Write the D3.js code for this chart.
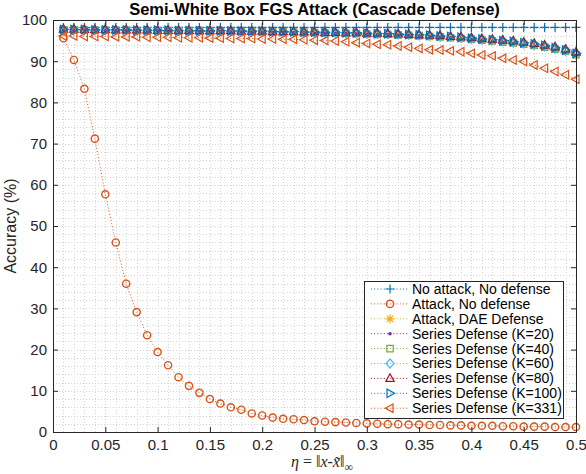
<!DOCTYPE html>
<html lang="en">
<head>
  <meta charset="UTF-8">
  <title>Semi-White Box FGS Attack (Cascade Defense)</title>
  <script src="https://cdnjs.cloudflare.com/ajax/libs/d3/7.8.5/d3.min.js"></script>
  <style>
    body { margin: 0; background: #fff; }
    svg { display: block; font-family: "Liberation Sans", Arial, sans-serif; }
  </style>
</head>
<body>
  <svg width="586" height="474"></svg>
  <script>
    // perturbation size eta
    const eta = [
      0.01, 0.02, 0.03, 0.04, 0.05, 0.06, 0.07, 0.08, 0.09, 0.10,
      0.11, 0.12, 0.13, 0.14, 0.15, 0.16, 0.17, 0.18, 0.19, 0.20,
      0.21, 0.22, 0.23, 0.24, 0.25, 0.26, 0.27, 0.28, 0.29, 0.30,
      0.31, 0.32, 0.33, 0.34, 0.35, 0.36, 0.37, 0.38, 0.39, 0.40,
      0.41, 0.42, 0.43, 0.44, 0.45, 0.46, 0.47, 0.48, 0.49, 0.50
    ];

    // accuracy (%) per series
    const noAttack = [
      98.2, 98.2, 98.2, 98.2, 98.2, 98.2, 98.2, 98.2, 98.2, 98.2,
      98.2, 98.2, 98.2, 98.2, 98.2, 98.2, 98.2, 98.2, 98.2, 98.2,
      98.2, 98.2, 98.2, 98.2, 98.2, 98.2, 98.2, 98.2, 98.2, 98.2,
      98.2, 98.2, 98.2, 98.2, 98.2, 98.2, 98.2, 98.2, 98.2, 98.2,
      98.2, 98.2, 98.2, 98.2, 98.2, 98.2, 98.2, 98.2, 98.2, 98.2
    ];
    const attackNoDefense = [
      95.6, 90.3, 83.3, 71.2, 57.7, 46.0, 36.0, 29.1, 23.5, 19.4,
      16.2, 13.3, 11.2, 9.5, 8.0, 6.9, 6.0, 5.4, 4.5, 4.0,
      3.5, 3.2, 3.1, 2.9, 2.6, 2.5, 2.4, 2.3, 2.2, 2.1,
      2.0, 1.9, 1.9, 1.8, 1.8, 1.7, 1.7, 1.6, 1.6, 1.5,
      1.5, 1.5, 1.4, 1.4, 1.3, 1.3, 1.3, 1.2, 1.2, 1.2
    ];
    const attackDAE = [
      97.6, 97.6, 97.6, 97.6, 97.5, 97.5, 97.5, 97.5, 97.4, 97.4,
      97.4, 97.4, 97.3, 97.3, 97.3, 97.3, 97.2, 97.2, 97.2, 97.2,
      97.1, 97.1, 97.0, 97.0, 96.9, 96.9, 96.8, 96.8, 96.7, 96.6,
      96.6, 96.5, 96.4, 96.3, 96.2, 96.1, 95.9, 95.8, 95.6, 95.4,
      95.2, 94.9, 94.7, 94.4, 94.1, 93.8, 93.4, 92.9, 92.3, 91.5
    ];
    const seriesK20 = [
      97.5, 97.5, 97.5, 97.5, 97.4, 97.4, 97.4, 97.4, 97.3, 97.3,
      97.3, 97.3, 97.2, 97.2, 97.2, 97.2, 97.1, 97.1, 97.1, 97.0,
      97.0, 97.0, 96.9, 96.9, 96.8, 96.8, 96.7, 96.7, 96.6, 96.5,
      96.4, 96.4, 96.3, 96.2, 96.1, 95.9, 95.8, 95.6, 95.4, 95.2,
      95.0, 94.8, 94.5, 94.2, 93.9, 93.6, 93.2, 92.7, 92.1, 91.3
    ];
    const seriesK40 = [
      97.6, 97.6, 97.6, 97.5, 97.5, 97.5, 97.5, 97.4, 97.4, 97.4,
      97.4, 97.3, 97.3, 97.3, 97.3, 97.2, 97.2, 97.2, 97.2, 97.1,
      97.1, 97.1, 97.0, 97.0, 96.9, 96.9, 96.8, 96.8, 96.7, 96.6,
      96.5, 96.5, 96.4, 96.3, 96.2, 96.0, 95.9, 95.7, 95.5, 95.3,
      95.1, 94.9, 94.6, 94.4, 94.1, 93.8, 93.4, 92.9, 92.4, 91.6
    ];
    const seriesK60 = [
      97.7, 97.7, 97.6, 97.6, 97.6, 97.6, 97.5, 97.5, 97.5, 97.5,
      97.4, 97.4, 97.4, 97.4, 97.3, 97.3, 97.3, 97.3, 97.2, 97.2,
      97.2, 97.1, 97.1, 97.0, 97.0, 96.9, 96.9, 96.8, 96.8, 96.7,
      96.6, 96.6, 96.5, 96.4, 96.3, 96.2, 96.0, 95.9, 95.7, 95.5,
      95.3, 95.1, 94.9, 94.6, 94.3, 94.0, 93.6, 93.1, 92.5, 91.8
    ];
    const seriesK80 = [
      97.8, 97.8, 97.7, 97.7, 97.7, 97.6, 97.6, 97.6, 97.6, 97.5,
      97.5, 97.5, 97.5, 97.4, 97.4, 97.4, 97.4, 97.3, 97.3, 97.3,
      97.2, 97.2, 97.2, 97.1, 97.1, 97.0, 97.0, 96.9, 96.9, 96.8,
      96.8, 96.7, 96.6, 96.5, 96.4, 96.3, 96.2, 96.0, 95.9, 95.7,
      95.5, 95.3, 95.1, 94.9, 94.6, 94.3, 93.9, 93.5, 92.9, 92.2
    ];
    const seriesK100 = [
      97.7, 97.7, 97.7, 97.6, 97.6, 97.6, 97.6, 97.5, 97.5, 97.5,
      97.5, 97.4, 97.4, 97.4, 97.4, 97.4, 97.3, 97.3, 97.3, 97.3,
      97.2, 97.2, 97.2, 97.1, 97.1, 97.0, 97.0, 96.9, 96.9, 96.8,
      96.7, 96.7, 96.6, 96.5, 96.4, 96.3, 96.1, 96.0, 95.8, 95.6,
      95.4, 95.2, 95.0, 94.8, 94.5, 94.2, 93.8, 93.3, 92.7, 91.9
    ];
    const seriesK331 = [
      96.1, 96.1, 96.0, 96.0, 96.0, 95.9, 95.9, 95.9, 95.8, 95.8,
      95.8, 95.7, 95.7, 95.7, 95.6, 95.6, 95.5, 95.5, 95.5, 95.4,
      95.4, 95.3, 95.3, 95.2, 95.1, 95.0, 94.9, 94.7, 94.5, 94.3,
      94.1, 94.0, 93.7, 93.4, 93.1, 92.8, 92.7, 92.5, 92.3, 91.9,
      91.5, 91.3, 90.7, 90.3, 89.9, 89.1, 88.3, 87.5, 86.7, 85.6
    ];

    const legendLabels = [
      "No attack, No defense",
      "Attack, No defense",
      "Attack, DAE Defense",
      "Series Defense (K=20)",
      "Series Defense (K=40)",
      "Series Defense (K=60)",
      "Series Defense (K=80)",
      "Series Defense (K=100)",
      "Series Defense (K=331)"
    ];

    const xTickValues = [0, 0.05, 0.1, 0.15, 0.2, 0.25, 0.3, 0.35, 0.4, 0.45, 0.5];
    const yTickValues = [0, 10, 20, 30, 40, 50, 60, 70, 80, 90, 100];

    // styling per series (MATLAB default colour order)
    const seriesValues = [noAttack, attackNoDefense, attackDAE, seriesK20, seriesK40,
                          seriesK60, seriesK80, seriesK100, seriesK331];
    const colors = ["#0072BD", "#D95319", "#EDB120", "#7E2F8E", "#77AC30",
                    "#4DBEEE", "#A2142F", "#0072BD", "#D95319"];
    const markers = ["plus", "circle", "star", "point", "square",
                     "diamond", "triUp", "triRight", "triLeft"];

    const series = seriesValues.map((vals, i) => ({
      name: legendLabels[i],
      color: colors[i],
      marker: markers[i],
      points: vals.map((v, j) => ({ x: eta[j], y: v }))
    }));

    const svg = d3.select("svg");
    const axisColor = "#262626";

    const x = d3.scaleLinear().domain([0, 0.5]).range([53, 576]);
    const y = d3.scaleLinear().domain([0, 100]).range([432, 20]);

    // minor + major grid (dotted)
    const grid = svg.append("g").attr("stroke", "#d4d4d4").attr("stroke-width", 1)
      .attr("stroke-dasharray", "1,2");
    grid.selectAll(".vx").data(d3.range(1, 50).map(i => i / 100)).enter().append("line")
      .attr("x1", d => Math.round(x(d)) + 0.5).attr("x2", d => Math.round(x(d)) + 0.5)
      .attr("y1", y(0)).attr("y2", y(100));
    grid.selectAll(".hy").data(d3.range(2, 100, 2)).enter().append("line")
      .attr("y1", d => Math.round(y(d)) + 0.5).attr("y2", d => Math.round(y(d)) + 0.5)
      .attr("x1", x(0)).attr("x2", x(0.5));

    // marker shapes
    function markerPath(type) {
      const s = 4.5;
      switch (type) {
        case "plus": return `M${-s},0H${s}M0,${-s}V${s}`;
        case "circle": { const r = 3.6; return `M${r},0A${r},${r} 0 1,1 ${-r},0A${r},${r} 0 1,1 ${r},0Z`; }
        case "star": { const d = s * 0.72;
          return `M${-s},0H${s}M0,${-s}V${s}M${-d},${-d}L${d},${d}M${-d},${d}L${d},${-d}`; }
        case "square": return "M-3.2,-3.2H3.2V3.2H-3.2Z";
        case "diamond": return "M0,-4.5L4,0L0,4.5L-4,0Z";
        case "triUp": return "M0,-4.6L4.2,3L-4.2,3Z";
        case "triRight": return "M4.6,0L-3,-4.2L-3,4.2Z";
        case "triLeft": return "M-4.6,0L3,-4.2L3,4.2Z";
        default: return "";
      }
    }

    function drawMarkers(g, s, pts) {
      if (s.marker === "point") {
        g.selectAll("circle").data(pts).enter().append("circle")
          .attr("cx", d => d.x).attr("cy", d => d.y).attr("r", 1.8)
          .attr("fill", s.color);
      } else {
        g.selectAll("path.m").data(pts).enter().append("path")
          .attr("class", "m")
          .attr("transform", d => `translate(${d.x},${d.y})`)
          .attr("d", markerPath(s.marker))
          .attr("fill", "none")
          .attr("stroke", s.color)
          .attr("stroke-width", s.marker === "circle" ? 1.4 : 1.2);
      }
    }

    const line = d3.line().x(d => x(d.x)).y(d => y(d.y));

    series.forEach(s => {
      const g = svg.append("g");
      g.append("path").datum(s.points)
        .attr("d", line)
        .attr("fill", "none")
        .attr("stroke", s.color)
        .attr("stroke-width", 1)
        .attr("stroke-dasharray", "1,2.2");
      drawMarkers(g, s, s.points.map(p => ({ x: x(p.x), y: y(p.y) })));
    });

    // axes with inward ticks
    const fmt = d => String(+d.toFixed(2));
    const xAxis = svg.append("g").attr("transform", `translate(0,${y(0)})`)
      .call(d3.axisBottom(x).tickValues(xTickValues).tickFormat(fmt)
        .tickSizeInner(-5).tickSizeOuter(0).tickPadding(7));
    const yAxis = svg.append("g").attr("transform", `translate(${x(0)},0)`)
      .call(d3.axisLeft(y).tickValues(yTickValues).tickFormat(fmt)
        .tickSizeInner(-5).tickSizeOuter(0).tickPadding(6));
    const xTop = svg.append("g").attr("transform", `translate(0,${y(100)})`)
      .call(d3.axisTop(x).tickValues(xTickValues).tickFormat("")
        .tickSizeInner(-5).tickSizeOuter(0));
    const yRight = svg.append("g").attr("transform", `translate(${x(0.5)},0)`)
      .call(d3.axisRight(y).tickValues(yTickValues).tickFormat("")
        .tickSizeInner(-5).tickSizeOuter(0));

    [xAxis, yAxis, xTop, yRight].forEach(a => {
      a.selectAll("path, line").attr("stroke", axisColor).attr("stroke-width", 1);
      a.selectAll("text").attr("fill", axisColor)
        .style("font-size", "15px").style("font-family", "'Liberation Sans', Arial, sans-serif");
    });

    // title
    svg.append("text")
      .attr("x", (x(0) + x(0.5)) / 2).attr("y", 15)
      .attr("text-anchor", "middle")
      .style("font-size", "16.5px").style("font-weight", "bold")
      .attr("fill", "#000")
      .text("Semi-White Box FGS Attack (Cascade Defense)");

    // y label
    svg.append("text")
      .attr("transform", `translate(16,${(y(0) + y(100)) / 2}) rotate(-90)`)
      .attr("text-anchor", "middle")
      .style("font-size", "16px")
      .attr("fill", axisColor)
      .text("Accuracy (%)");

    // x label (LaTeX-like)
    const xl = svg.append("text")
      .attr("x", 322).attr("y", 467)
      .attr("text-anchor", "middle")
      .style("font-family", "'Liberation Serif', 'DejaVu Serif', serif")
      .style("font-size", "16px")
      .attr("fill", axisColor);
    xl.append("tspan").style("font-style", "italic").text("η");
    xl.append("tspan").text(" = ‖");
    xl.append("tspan").style("font-style", "italic").text("x");
    xl.append("tspan").text("-");
    xl.append("tspan").style("font-style", "italic").text("x\u0303");
    xl.append("tspan").text("‖");
    xl.append("tspan").attr("dy", 4).style("font-size", "12px").text("∞");

    // legend
    const lg = svg.append("g");
    lg.append("rect")
      .attr("x", 364.5).attr("y", 281.5).attr("width", 199).attr("height", 137)
      .attr("fill", "#fff").attr("stroke", axisColor).attr("stroke-width", 1);
    series.forEach((s, i) => {
      const cy = 289 + i * 14.9;
      const row = lg.append("g");
      row.append("line")
        .attr("x1", 371).attr("x2", 408).attr("y1", cy).attr("y2", cy)
        .attr("stroke", s.color).attr("stroke-width", 1).attr("stroke-dasharray", "1,2.2");
      drawMarkers(row, s, [{ x: 390, y: cy }]);
      row.append("text")
        .attr("x", 412).attr("y", cy).attr("dy", "0.35em")
        .style("font-size", "14px")
        .attr("fill", "#000")
        .text(s.name);
    });
  </script>
